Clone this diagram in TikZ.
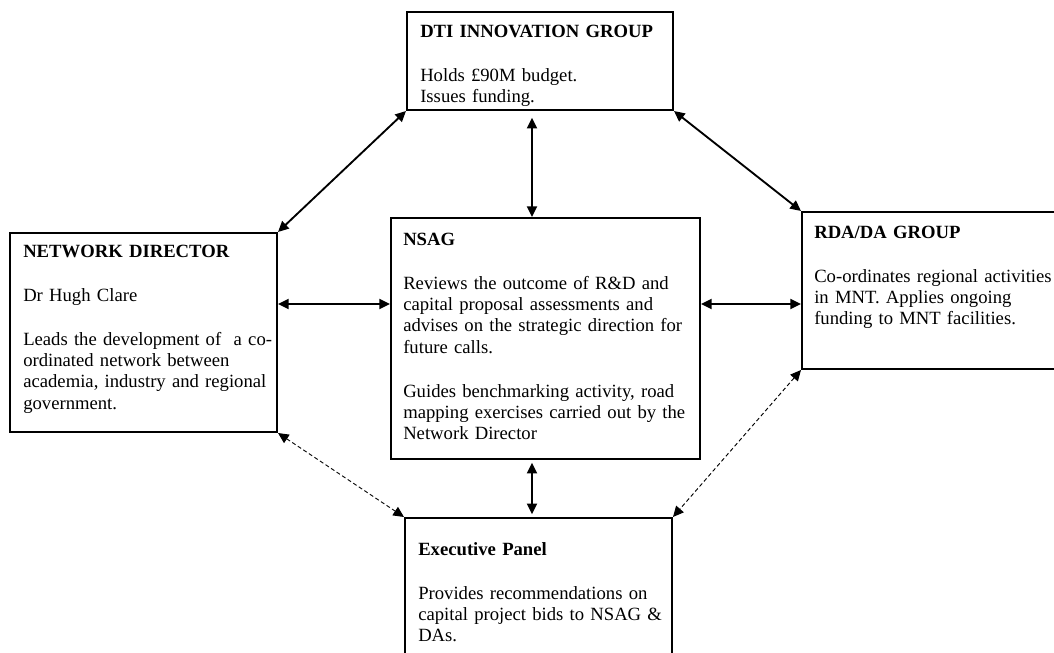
\documentclass[tikz,border=0pt]{standalone}
\usepackage{fontspec}
\setmainfont{Liberation Serif}
\usetikzlibrary{arrows.meta, fit}

\tikzset{
  box/.style={draw, line width=1.5pt, inner sep=0pt},
  txt/.style={anchor=base west, inner sep=0pt, text width=240pt, align=left,
    font=\fontsize{14}{16}\selectfont},
  link/.style={{Triangle[length=8pt,width=7.5pt]}-{Triangle[length=8pt,width=7.5pt]},
    line width=1.4pt},
  weak/.style={line width=0.7pt, dash pattern=on 3pt off 2pt}
}

\begin{document}
\begin{tikzpicture}[x=0.75pt, y=-0.75pt]
  \useasboundingbox (0,0) rectangle (1054,653);
  \clip (0,0) rectangle (1054,653);

  \node[box, fit={(407,12) (673,110)}] (dti) {};
  \node[box, fit={(10,233) (277,432)}] (nd) {};
  \node[box, fit={(391,218) (700,459)}] (nsag) {};
  \node[box, fit={(802,212) (1080,369)}] (rda) {};
  \node[box, fit={(405,518) (672,690)}] (exec) {};

  \node[txt] (dti-txt) at (420,37) {\textbf{DTI INNOVATION GROUP}\\[17pt]
    Holds £90M budget.\\Issues funding.};
  \node[txt] (nd-txt) at (23,257) {\textbf{NETWORK DIRECTOR}\\[17pt]
    Dr Hugh Clare\\[17pt]
    Leads the development of\ \ a co-\\ordinated network between\\
    academia, industry and regional\\government.};
  \node[txt] (nsag-txt) at (403,245) {\textbf{NSAG}\\[17pt]
    Reviews the outcome of R\&D and\\capital proposal assessments and\\
    advises on the strategic direction for\\future calls.\\[17pt]
    Guides benchmarking activity, road\\mapping exercises carried out by the\\
    Network Director};
  \node[txt] (rda-txt) at (814,238) {\textbf{RDA/DA GROUP}\\[17pt]
    Co-ordinates regional activities\\in MNT. Applies ongoing\\
    funding to MNT facilities.};
  \node[txt] (exec-txt) at (418,555) {\textbf{Executive Panel}\\[17pt]
    Provides recommendations on\\capital project bids to NSAG \&\\DAs.};

  \coordinate (axis) at (532,0);
  \coordinate (row) at (0,304);

  \path[link]
    (dti.south west) edge (nd.north east)
    (dti.south east) edge (rda.north west)
    (dti.south -| axis) edge[shorten <=5pt] (nsag.north -| axis)
    (nd.east |- row) edge (nsag.west |- row)
    (nsag.east |- row) edge (rda.west |- row)
    (nsag.south -| axis) edge[shorten <=2pt, shorten >=2pt] (exec.north -| axis)
    (nd.south east) edge[weak] (exec.north west)
    (rda.south west) edge[weak] (exec.north east);
\end{tikzpicture}
\end{document}
